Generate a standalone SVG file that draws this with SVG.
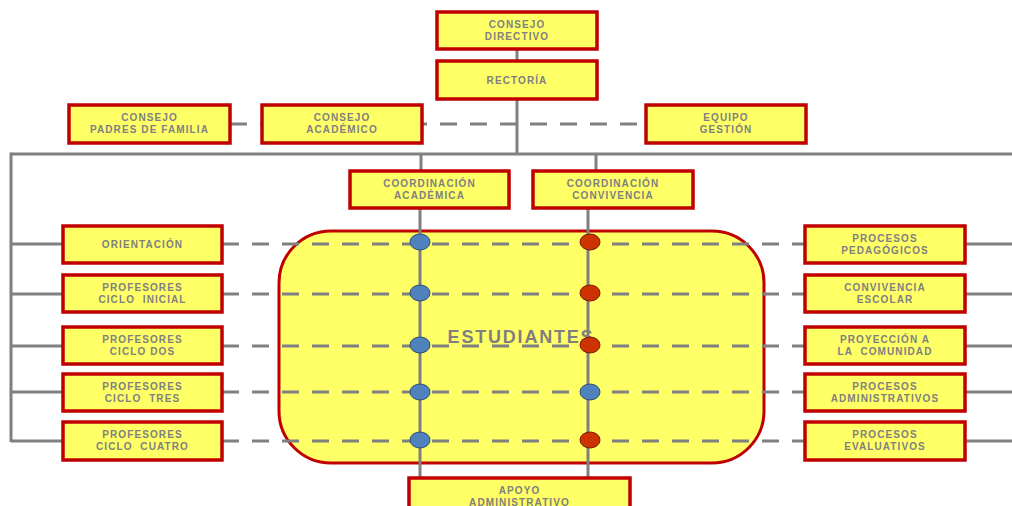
<svg xmlns="http://www.w3.org/2000/svg" width="1012" height="506" viewBox="0 0 1012 506">
<style>
.box{fill:#FFFF66;stroke:#C00000;stroke-width:3.5}
.t{font-family:"Liberation Sans",Arial,sans-serif;font-weight:bold;font-size:10px;letter-spacing:1.1px;fill:#808080;text-anchor:middle;white-space:pre}
.ln{stroke:#808080;stroke-width:3;fill:none}
.ds{stroke:#808080;stroke-width:3;fill:none;stroke-dasharray:17 13}
.bl{fill:#4F81BD;stroke:#2E4F75;stroke-width:1}
.rd{fill:#CC3300;stroke:#7A1A00;stroke-width:1}
</style>
<rect width="1012" height="506" fill="#FFFFFF"/>
<g id="estudiantes">
<rect x="279" y="231" width="485" height="232" rx="52" ry="52" fill="#FFFF66" stroke="#C00000" stroke-width="3"/>
<text x="521" y="343" font-family="Liberation Sans,Arial,sans-serif" font-weight="bold" font-size="18" fill="#7F7F7F" text-anchor="middle" letter-spacing="1.8">ESTUDIANTES</text>
</g>
<g id="connectors">
<line class="ln" x1="517" y1="49" x2="517" y2="60"/>
<line class="ln" x1="517" y1="99" x2="517" y2="154"/>
<line class="ds" x1="230" y1="124" x2="646" y2="124"/>
<line class="ln" x1="11" y1="154" x2="1012" y2="154"/>
<line class="ln" x1="11" y1="152.5" x2="11" y2="442"/>
<line class="ln" x1="421" y1="154" x2="421" y2="170"/>
<line class="ln" x1="596" y1="154" x2="596" y2="170"/>
<line class="ln" x1="420" y1="208" x2="420" y2="477"/>
<line class="ln" x1="588" y1="208" x2="588" y2="477"/>
<line class="ln" x1="11" y1="244" x2="62" y2="244"/>
<line class="ln" x1="11" y1="294" x2="62" y2="294"/>
<line class="ln" x1="11" y1="346" x2="62" y2="346"/>
<line class="ln" x1="11" y1="392" x2="62" y2="392"/>
<line class="ln" x1="11" y1="441" x2="62" y2="441"/>
<line class="ds" x1="222" y1="244" x2="804" y2="244"/>
<line class="ds" x1="222" y1="294" x2="804" y2="294"/>
<line class="ds" x1="222" y1="346" x2="804" y2="346"/>
<line class="ds" x1="222" y1="392" x2="804" y2="392"/>
<line class="ds" x1="222" y1="441" x2="804" y2="441"/>
<line class="ln" x1="966" y1="244" x2="1012" y2="244"/>
<line class="ln" x1="966" y1="294" x2="1012" y2="294"/>
<line class="ln" x1="966" y1="346" x2="1012" y2="346"/>
<line class="ln" x1="966" y1="392" x2="1012" y2="392"/>
<line class="ln" x1="966" y1="441" x2="1012" y2="441"/>
</g>
<g id="junctions">
<ellipse class="bl" cx="420" cy="242" rx="10" ry="8"/>
<ellipse class="bl" cx="420" cy="293" rx="10" ry="8"/>
<ellipse class="bl" cx="420" cy="345" rx="10" ry="8"/>
<ellipse class="bl" cx="420" cy="392" rx="10" ry="8"/>
<ellipse class="bl" cx="420" cy="440" rx="10" ry="8"/>
<ellipse class="rd" cx="590" cy="242" rx="10" ry="8"/>
<ellipse class="rd" cx="590" cy="293" rx="10" ry="8"/>
<ellipse class="rd" cx="590" cy="345" rx="10" ry="8"/>
<ellipse class="bl" cx="590" cy="392" rx="10" ry="8"/>
<ellipse class="rd" cx="590" cy="440" rx="10" ry="8"/>
</g>
<g id="consejo-directivo"><rect class="box" x="437" y="12" width="160" height="37"/><text class="t" x="517" y="28">CONSEJO</text><text class="t" x="517" y="40">DIRECTIVO</text></g>
<g id="rectoria"><rect class="box" x="437" y="61" width="160" height="38"/><text class="t" x="517" y="83.5">RECTORÍA</text></g>
<g id="consejo-padres"><rect class="box" x="69" y="105" width="161" height="38"/><text class="t" x="149.5" y="121">CONSEJO</text><text class="t" x="149.5" y="133">PADRES DE FAMILIA</text></g>
<g id="consejo-academico"><rect class="box" x="262" y="105" width="160" height="38"/><text class="t" x="342" y="121">CONSEJO</text><text class="t" x="342" y="133">ACADÉMICO</text></g>
<g id="equipo-gestion"><rect class="box" x="646" y="105" width="160" height="38"/><text class="t" x="726" y="121">EQUIPO</text><text class="t" x="726" y="133">GESTIÓN</text></g>
<g id="coord-academica"><rect class="box" x="350" y="171" width="159" height="37"/><text class="t" x="429.5" y="187">COORDINACIÓN</text><text class="t" x="429.5" y="199">ACADÉMICA</text></g>
<g id="coord-convivencia"><rect class="box" x="533" y="171" width="160" height="37"/><text class="t" x="613" y="187">COORDINACIÓN</text><text class="t" x="613" y="199">CONVIVENCIA</text></g>
<g id="orientacion"><rect class="box" x="63" y="226" width="159" height="37"/><text class="t" x="142.5" y="248">ORIENTACIÓN</text></g>
<g id="ciclo-inicial"><rect class="box" x="63" y="275" width="159" height="37"/><text class="t" x="142.5" y="291">PROFESORES</text><text class="t" x="142.5" y="303">CICLO  INICIAL</text></g>
<g id="ciclo-dos"><rect class="box" x="63" y="327" width="159" height="37"/><text class="t" x="142.5" y="343">PROFESORES</text><text class="t" x="142.5" y="355">CICLO DOS</text></g>
<g id="ciclo-tres"><rect class="box" x="63" y="374" width="159" height="37"/><text class="t" x="142.5" y="390">PROFESORES</text><text class="t" x="142.5" y="402">CICLO  TRES</text></g>
<g id="ciclo-cuatro"><rect class="box" x="63" y="422" width="159" height="38"/><text class="t" x="142.5" y="438">PROFESORES</text><text class="t" x="142.5" y="450">CICLO  CUATRO</text></g>
<g id="procesos-pedagogicos"><rect class="box" x="805" y="226" width="160" height="37"/><text class="t" x="885" y="242">PROCESOS</text><text class="t" x="885" y="254">PEDAGÓGICOS</text></g>
<g id="convivencia-escolar"><rect class="box" x="805" y="275" width="160" height="37"/><text class="t" x="885" y="291">CONVIVENCIA</text><text class="t" x="885" y="303">ESCOLAR</text></g>
<g id="proyeccion"><rect class="box" x="805" y="327" width="160" height="37"/><text class="t" x="885" y="343">PROYECCIÓN A</text><text class="t" x="885" y="355">LA  COMUNIDAD</text></g>
<g id="procesos-administrativos"><rect class="box" x="805" y="374" width="160" height="37"/><text class="t" x="885" y="390">PROCESOS</text><text class="t" x="885" y="402">ADMINISTRATIVOS</text></g>
<g id="procesos-evaluativos"><rect class="box" x="805" y="422" width="160" height="38"/><text class="t" x="885" y="438">PROCESOS</text><text class="t" x="885" y="450">EVALUATIVOS</text></g>
<g id="apoyo-administrativo"><rect class="box" x="409" y="478" width="221" height="40"/><text class="t" x="519.5" y="494">APOYO</text><text class="t" x="519.5" y="506">ADMINISTRATIVO</text></g>
</svg>
